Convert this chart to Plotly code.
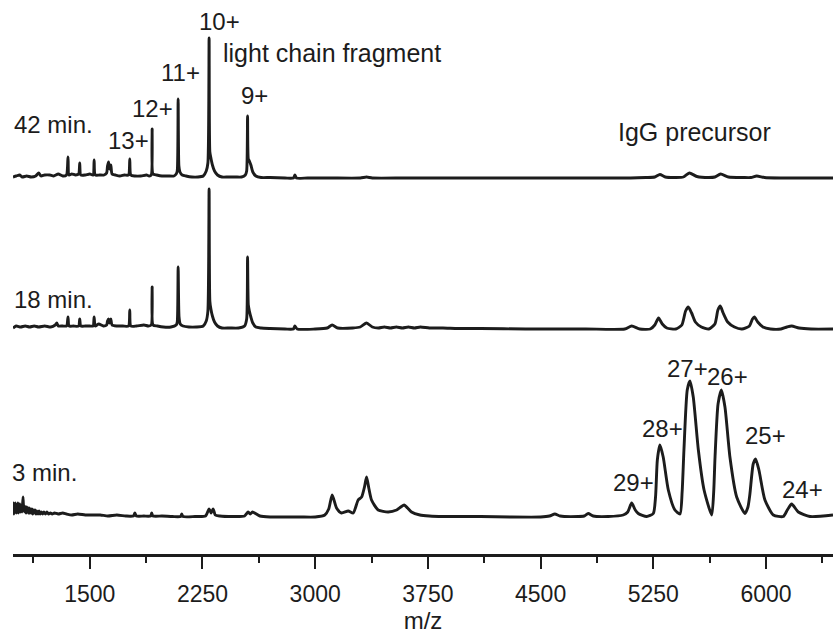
import plotly.graph_objects as go

# ---------------- data ----------------
# m/z and relative intensity for each acquisition time
MZ_42 = [
    989, 1010, 1034, 1050, 1080, 1110, 1140, 1160, 1175, 1200,
    1234, 1260, 1290, 1320, 1345, 1355, 1362, 1380, 1405, 1426,
    1433, 1440, 1470, 1500, 1522, 1529, 1536, 1565, 1595, 1612,
    1618, 1625, 1632, 1640, 1648, 1670, 1700, 1730, 1758, 1766,
    1773, 1800, 1840, 1877, 1895, 1909, 1915, 1921, 1945, 1980,
    2020, 2060, 2075, 2082, 2088, 2093, 2100, 2115, 2140, 2180,
    2220, 2255, 2275, 2286, 2294, 2299, 2306, 2316, 2330, 2350,
    2380, 2420, 2470, 2510, 2535, 2544, 2550, 2555, 2562, 2572,
    2585, 2605, 2640, 2700, 2800, 2855, 2865, 2875, 2950, 3100,
    3300, 3342, 3380, 3600, 4000, 4400, 4800, 5100, 5200, 5260,
    5294, 5330, 5400, 5450, 5490, 5540, 5620, 5660, 5698, 5750,
    5850, 5900, 5938, 5990, 6100, 6300, 6446]
INT_42 = [
    1, 2, 3, 1, 2, 1, 2, 5, 2, 3,
    3, 2, 4, 2, 3, 21, 3, 4, 3, 4,
    15, 3, 3, 4, 3, 18, 3, 3, 3, 5,
    12, 16, 9, 13, 4, 3, 2, 3, 3, 19,
    3, 2, 2, 3, 2, 3, 49, 4, 3, 2,
    2, 2, 4, 7, 79, 12, 6, 3, 2, 1,
    1, 2, 7, 15, 140, 26, 20, 13, 7, 3,
    1, 1, 1, 1, 3, 7, 62, 19, 17, 13,
    6, 2, 0.5, 0.5, 0, 0, 3, 0, 0, 0,
    0, 1, 0, 0, 0, 0, 0, 0, 0.5, 1,
    3.5, 1, 0.5, 1, 5, 1.5, 0.5, 1, 4, 1,
    0.5, 0.5, 2, 0.5, 0, 0, 0]

MZ_18 = [
    989, 1010, 1040, 1070, 1100, 1130, 1160, 1200, 1240, 1270,
    1280, 1290, 1320, 1346, 1355, 1362, 1390, 1426, 1433, 1440,
    1470, 1500, 1522, 1529, 1536, 1560, 1590, 1612, 1618, 1625,
    1632, 1640, 1648, 1680, 1720, 1758, 1766, 1773, 1810, 1860,
    1890, 1909, 1915, 1921, 1950, 1990, 2040, 2075, 2082, 2088,
    2094, 2102, 2120, 2160, 2210, 2255, 2275, 2286, 2294, 2299,
    2306, 2316, 2330, 2350, 2380, 2430, 2490, 2530, 2544, 2550,
    2555, 2562, 2572, 2585, 2605, 2640, 2700, 2800, 2855, 2865,
    2880, 3000, 3080, 3113, 3150, 3250, 3300, 3342, 3380, 3420,
    3460, 3500, 3540, 3580, 3620, 3660, 3700, 3760, 3850, 3950,
    4100, 4400, 4800, 5060, 5106, 5160, 5230, 5260, 5285, 5310,
    5340, 5400, 5440, 5465, 5483, 5505, 5530, 5570, 5620, 5660,
    5680, 5696, 5715, 5745, 5790, 5840, 5890, 5910, 5923, 5945,
    5980, 6030, 6100, 6140, 6171, 6220, 6300, 6446]
INT_18 = [
    1, 3, 2, 3, 2, 3, 2, 3, 2, 4,
    6, 3, 3, 3, 12, 3, 3, 3, 10, 3,
    3, 3, 3, 12, 3, 5, 3, 4, 8, 10,
    6, 10, 4, 3, 3, 3, 19, 3, 3, 4,
    3, 4, 42, 4, 3, 2, 2, 4, 7, 62,
    12, 5, 3, 2, 2, 3, 8, 18, 140, 28,
    20, 13, 7, 3, 1, 1, 1, 3, 10, 72,
    24, 18, 12, 6, 2, 1, 0.5, 0, 0, 3,
    0, 0, 1, 4, 1, 1, 2, 6, 2, 1,
    2, 1, 2, 1, 2, 1, 2, 1, 1, 0.5,
    0.5, 0, 0, 0, 3, 0, 0, 4, 11, 5,
    1, 0, 4, 18, 22, 16, 7, 2, 0, 5,
    19, 23, 16, 7, 2, 0, 3, 10, 12, 7,
    2, 0, 0, 2, 3, 1, 0, 0]

MZ_3 = [
    989, 992, 995, 998, 1001, 1004, 1007, 1010, 1013, 1016,
    1019, 1022, 1025, 1028, 1031, 1034, 1037, 1040, 1043, 1046,
    1049, 1052, 1056, 1060, 1064, 1068, 1072, 1076, 1080, 1084,
    1088, 1092, 1096, 1100, 1105, 1110, 1115, 1120, 1125, 1130,
    1136, 1142, 1148, 1155, 1162, 1170, 1178, 1186, 1195, 1205,
    1215, 1226, 1238, 1250, 1265, 1290, 1320, 1345, 1380, 1420,
    1470, 1520, 1570, 1620, 1680, 1740, 1790, 1800, 1810, 1860,
    1905, 1912, 1920, 1980, 2050, 2105, 2112, 2120, 2200, 2270,
    2294, 2307, 2321, 2335, 2365, 2450, 2530, 2554, 2568, 2583,
    2632, 2700, 2800, 2900, 3000, 3064, 3090, 3113, 3142, 3175,
    3220, 3253, 3286, 3309, 3328, 3342, 3358, 3375, 3419, 3486,
    3542, 3570, 3592, 3615, 3641, 3697, 3760, 3850, 3950, 4100,
    4300, 4500, 4560, 4595, 4630, 4750, 4790, 4817, 4850, 4950,
    5050, 5080, 5106, 5130, 5150, 5206, 5250, 5265, 5277, 5294,
    5316, 5350, 5394, 5428, 5442, 5454, 5476, 5494, 5516, 5550,
    5588, 5639, 5652, 5661, 5681, 5703, 5727, 5760, 5805, 5860,
    5880, 5893, 5915, 5931, 5953, 5993, 6049, 6115, 6142, 6171,
    6215, 6293, 6446]
INT_3 = [
    8, 14, 3, 13, 4, 14, 5, 13, 4, 12,
    5, 14, 4, 12, 5, 13, 5, 11, 6, 12,
    5, 11, 20, 6, 11, 5, 10, 4, 10, 5,
    9, 4, 9, 4, 8, 4, 8, 3, 7, 4,
    7, 3, 6, 3, 6, 3, 5, 3, 5, 3,
    5, 3, 4, 3, 4, 3, 4, 3, 2, 3,
    2, 2, 2, 1, 2, 1, 1, 4, 1, 1,
    1, 4, 1, 1, 0.5, 0.5, 3, 0.5, 0.5, 1,
    8, 4, 8, 2, 1, 0.5, 1, 5, 3, 5,
    1, 0, 0, 0, 0, 2, 8, 22, 9, 4,
    6, 4, 17, 20, 30, 40, 28, 17, 7, 5,
    7, 10, 12, 9, 5, 2, 1, 0.5, 0.5, 0.5,
    0, 0, 1, 3, 1, 0.5, 1, 3.5, 1, 0.5,
    2, 5, 14, 7, 3.5, 0.5, 3.5, 20, 57, 72,
    60, 27, 7, 3, 25, 67, 127, 136, 120, 67,
    27, 2, 25, 60, 113, 127, 110, 60, 20, 3.5,
    10, 23, 53, 58, 47, 17, 2, 0.5, 7, 13,
    5, 0.5, 2]

TIME_LABELS = ["42 min.", "18 min.", "3 min."]
# charge-state labels: light chain fragment (42 min) and IgG precursor (3 min)
LC_LABELS = ["13+", "12+", "11+", "10+", "9+"]
LC_LABEL_MZ = [1760, 1919, 2106, 2362, 2598]
LC_LABEL_Y = [377, 409, 445, 496, 422]
IGG_LABELS = ["29+", "28+", "27+", "26+", "25+", "24+"]
IGG_LABEL_MZ = [5115, 5308, 5481, 5747, 6000, 6246]
IGG_LABEL_Y = [35, 89, 149, 141, 82, 28]

# vertical stacking offsets of the three spectra
OFFSETS = [339, 188, 0]

# ---------------- figure ----------------
FONT = "Liberation Sans, Arial, Helvetica, sans-serif"
INK = "#1c1c1c"

fig = go.Figure()
series = [(MZ_42, INT_42), (MZ_18, INT_18), (MZ_3, INT_3)]
for (mz, inten), off, name in zip(series, OFFSETS, TIME_LABELS):
    fig.add_trace(go.Scatter(
        x=mz, y=[v + off for v in inten], mode="lines", name=name,
        line=dict(color=INK, width=2.9, shape="spline", smoothing=0.6),
        showlegend=False, hoverinfo="skip"))

ann = []
TIME_X = [1258, 1256, 1200]
TIME_Y = [393, 218, 45]
for t, x, y in zip(TIME_LABELS, TIME_X, TIME_Y):
    ann.append(dict(x=x, y=y, text=t, size=24))
for t, x, y in zip(LC_LABELS, LC_LABEL_MZ, LC_LABEL_Y):
    ann.append(dict(x=x, y=y, text=t, size=24))
for t, x, y in zip(IGG_LABELS, IGG_LABEL_MZ, IGG_LABEL_Y):
    ann.append(dict(x=x, y=y, text=t, size=24))
ann.append(dict(x=3111, y=464, text="light chain fragment", size=25))
ann.append(dict(x=5527, y=385, text="IgG precursor", size=25))
for a in ann:
    s = a.pop("size")
    a.update(xref="x", yref="y", showarrow=False, xanchor="center",
             yanchor="middle", font=dict(family=FONT, size=s, color=INK))

fig.update_layout(
    width=833, height=639,
    margin=dict(l=13, r=0, t=0, b=85),
    paper_bgcolor="white", plot_bgcolor="white",
    annotations=ann,
    xaxis=dict(
        range=[989, 6446], tick0=1500, dtick=750,
        ticks="outside", ticklen=12, tickwidth=2, tickcolor=INK,
        showline=True, linewidth=2.6, linecolor=INK,
        showgrid=False, zeroline=False,
        ticklabelstandoff=6,
        tickfont=dict(family=FONT, size=23, color=INK),
        title=dict(text="m/z", font=dict(family=FONT, size=24, color=INK), standoff=6),
        minor=dict(ticks="outside", ticklen=6, tickwidth=2, tickcolor=INK,
                   dtick=375, tick0=1125, showgrid=False),
    ),
    yaxis=dict(visible=False, range=[-37, 517], fixedrange=True),
)

fig.write_html("out.html")
